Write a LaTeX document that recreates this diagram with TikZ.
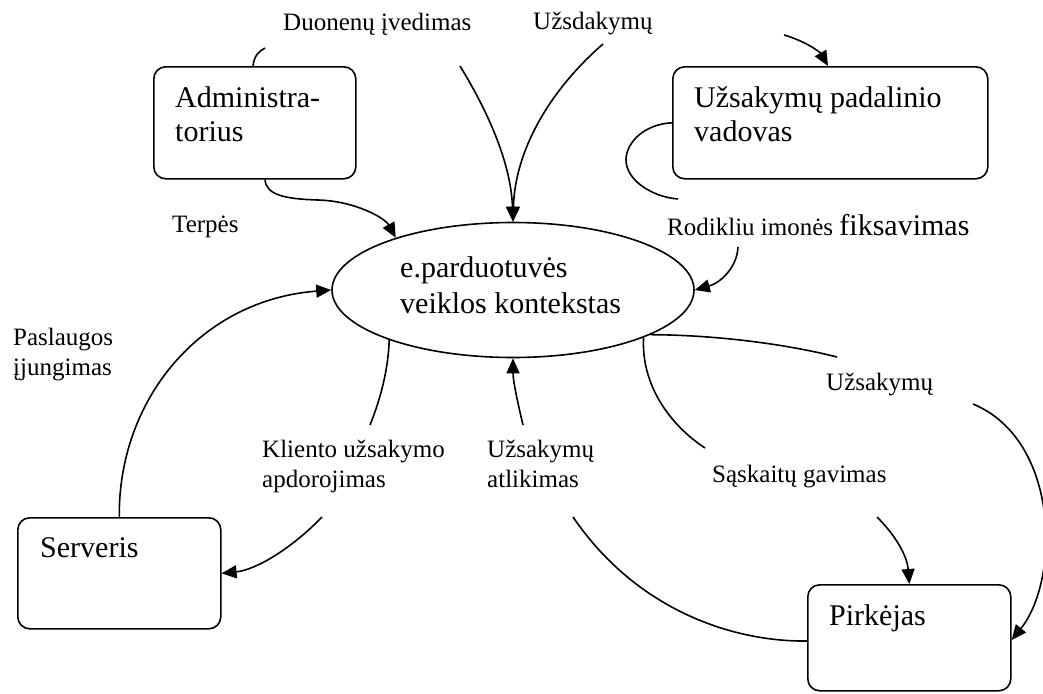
\documentclass[tikz,border=0pt]{standalone}
\usepackage{fontspec}
\setmainfont{Liberation Serif}
\usetikzlibrary{arrows.meta,shapes.geometric,calc}

\begin{document}
\begin{tikzpicture}[x=1pt,y=-1pt,
  flow/.style={line width=1.6pt},
  arr/.style={flow,-{Triangle[length=15pt,width=13pt]}},
  box/.style={draw,line width=1.6pt,rounded corners=12pt,anchor=north west,inner sep=0pt},
  lbl/.style={anchor=base west,inner sep=0pt,align=left,font=\fontsize{25}{29.5}\selectfont},
  big/.style={anchor=base west,inner sep=0pt,align=left,font=\fontsize{30}{34}\selectfont},
]
\clip (0,0) rectangle (1043,693);
\fill[white] (0,0) rectangle (1043,693);

% actors and the central process
\node[box,minimum width=202pt,minimum height=112pt] (admin) at (153,66) {};
\node[box,minimum width=315pt,minimum height=112pt] (vad) at (672,66) {};
\node[box,minimum width=203pt,minimum height=111pt] (serv) at (17,517) {};
\node[box,minimum width=203pt,minimum height=106pt] (pirk) at (807,584) {};
\node[draw,ellipse,line width=1.6pt,minimum width=362pt,minimum height=135pt,inner sep=0pt] (ell) at (513,290) {};

% multi-line texts are anchored at the baseline of their last line
\node[big] (admin-t) at (175,141) {Administra-\\torius};
\node[big] (vad-t) at (694,141) {Užsakymų padalinio\\vadovas};
\node[big,font=\fontsize{30}{36}\selectfont] (ell-t) at (400,313) {e.parduotuvės\\veiklos kontekstas};
\node[big] (serv-t) at (40,557) {Serveris};
\node[big] (pirk-t) at (829,625) {Pirkėjas};

% flow labels
\node[lbl] (l-duon) at (283,31) {Duonenų įvedimas};
\node[lbl] (l-uzsd) at (533,30) {Užsdakymų};
\node[lbl] (l-terp) at (172,232) {Terpės};
\node[lbl] (l-rod) at (667,235) {Rodikliu imonės {\fontsize{30}{34}\selectfont fiksavimas}};
\node[lbl] (l-pasl) at (13,375) {Paslaugos\\įjungimas};
\node[lbl] (l-klie) at (262,487) {Kliento užsakymo\\apdorojimas};
\node[lbl] (l-atl) at (487,487) {Užsakymų\\atlikimas};
\node[lbl] (l-uzs) at (826,390) {Užsakymų};
\node[lbl] (l-sask) at (712,482) {Sąskaitų gavimas};

% free ends of the flows
\coordinate (a1) at (265,48);
\coordinate (a3) at (460,66);
\coordinate (a4) at (603,44);
\coordinate (a5) at (784,35);
\coordinate (a6) at (678,199);
\coordinate (a7) at (738,247);
\coordinate (a9) at (370,425);
\coordinate (a9b) at (322,517);
\coordinate (a10) at (523,425);
\coordinate (a10b) at (573,517);
\coordinate (a11) at (837,357);
\coordinate (a11b) at (973,404);
\coordinate (a12) at (705,448);
\coordinate (a12b) at (877,517);

% flows
\draw[flow] ($(admin.north west)+(100,0)$) .. controls (254,56) and (259,51) .. (a1);
\draw[arr] ($(admin.south west)+(112,0)$) .. controls (266,195) and (285,199) .. (318,200)
  .. controls (355,201) and (385,218) .. (ell.156);
\draw[arr] (a3) .. controls (490,115) and (511,165) .. (ell.north);
\draw[arr] (a4) .. controls (550,90) and (515,150) .. (ell.north);
\draw[arr] (a5) .. controls (805,41) and (820,52) .. ($(vad.north west)+(156,0)$);
\draw[flow] (vad.west) .. controls (645,124) and (626,142) .. (626,160)
  .. controls (626,180) and (652,197) .. (a6);
\draw[arr] (a7) .. controls (737,268) and (720,283) .. (ell.east);
\draw[arr] (serv.north) .. controls (118,400) and (200,300) .. (ell.west);
\draw[flow] (ell.-158) .. controls (388,375) and (378,405) .. (a9);
\draw[arr] (a9b) .. controls (290,550) and (255,570) .. (serv.east);
\draw[arr] (a10) .. controls (517,400) and (513,380) .. (ell.south);
\draw[flow] ($(pirk.north west)+(0,57)$) .. controls (740,642) and (640,615) .. (a10b);
\draw[flow] (ell.-18) .. controls (720,335) and (790,345) .. (a11);
\draw[arr] (a11b) .. controls (1060,440) and (1060,580) .. ($(pirk.north east)+(0,56)$);
\draw[flow] (ell.-20) .. controls (641,385) and (670,425) .. (a12);
\draw[arr] (a12b) .. controls (895,535) and (907,555) .. (pirk.north);
\end{tikzpicture}
\end{document}
